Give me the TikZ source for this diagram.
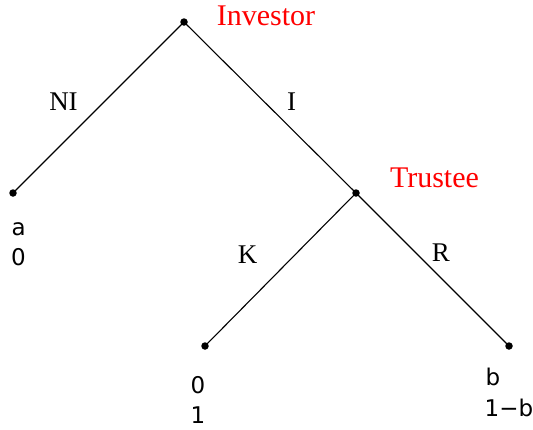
\documentclass[tikz,border=0pt]{standalone}
\usepackage{fontspec}
\setmainfont{Liberation Serif}
\newfontfamily\payfont{DejaVu Sans}
\begin{document}
\begin{tikzpicture}[x=1pt,y=-1pt,
  dotnode/.style={circle,fill=black,inner sep=0pt,minimum size=7.5pt},
  player/.style={text=red,font=\fontsize{30}{30}\selectfont,anchor=base,inner sep=0pt},
  act/.style={font=\fontsize{27}{27}\selectfont,anchor=base,inner sep=0pt},
  pay/.style={font=\payfont\fontsize{23}{23}\selectfont,anchor=base west,inner sep=0pt},
  edge/.style={line width=1.1pt}]
\useasboundingbox (0,0) rectangle (533,429);
\node[dotnode] (root) at (184,22) {};
\node[dotnode] (l) at (13,193) {};
\node[dotnode] (t) at (356,193) {};
\node[dotnode] (k) at (205,346) {};
\node[dotnode] (r) at (509,346) {};
\draw[edge] (root.center) -- (l.center);
\draw[edge] (root.center) -- (t.center);
\draw[edge] (t.center) -- (k.center);
\draw[edge] (t.center) -- (r.center);
\node[player] (inv) at (266,25) {Investor};
\node[player] (tru) at (434.5,187) {Trustee};
\node[act] (ni) at (63.5,110) {NI};
\node[act] (i) at (291.5,110) {I};
\node[act] (kl) at (247.5,263) {K};
\node[act] (rl) at (441,261) {R};
\node[pay] (a1) at (11.5,235) {a};
\node[pay] (a2) at (11,265) {0};
\node[pay] (k1) at (190.5,393) {0};
\node[pay] (k2) at (190.5,423) {1};
\node[pay] (b1) at (485.5,385) {b};
\node[pay] (b2) at (484.5,416) {1−b};
\end{tikzpicture}
\end{document}
